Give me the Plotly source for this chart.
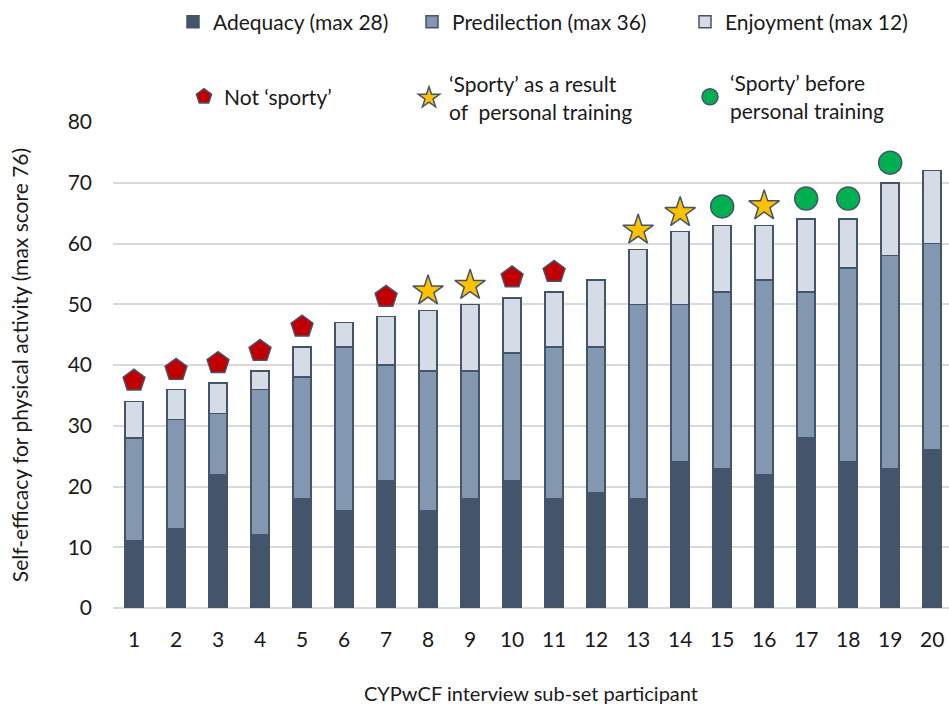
import plotly.graph_objects as go

participants = list(range(1, 21))
adequacy = [11, 13, 22, 12, 18, 16, 21, 16, 18, 21, 18, 19, 18, 24, 23, 22, 28, 24, 23, 26]
predilection = [17, 18, 10, 24, 20, 27, 19, 23, 21, 21, 25, 24, 32, 26, 29, 32, 24, 32, 35, 34]
enjoyment = [6, 5, 5, 3, 5, 4, 8, 10, 11, 9, 9, 11, 9, 12, 11, 9, 12, 8, 12, 12]

not_sporty_x = [1, 2, 3, 4, 5, 7, 10, 11]
not_sporty_y = [37.4, 39.2, 40.3, 42.3, 46.3, 51.2, 54.4, 55.3]
trained_x = [8, 9, 13, 14, 16]
trained_y = [52.2, 53.1, 62.2, 65.1, 66.2]
before_x = [15, 17, 18, 19]
before_y = [66.1, 67.4, 67.4, 73.3]

FONT = "Lato"
OUT = "#44546A"
TXT = "#1a1a1a"

# plot area in pixels
L, R, T, B = 113, 949, 122, 608
W, H = 949, 706


def px_x(p):
    return (p - L) / (R - L)


def px_y(p):
    return (B - p) / (B - T)


fig = go.Figure()
bar_specs = [
    ("Adequacy (max 28)", adequacy, "#44546A", "legend"),
    ("Predilection (max 36)", predilection, "#8497B0", "legend2"),
    ("Enjoyment (max 12)", enjoyment, "#D6DCE5", "legend3"),
]
for name, vals, col, lg in bar_specs:
    fig.add_trace(go.Bar(
        x=participants, y=vals, name=name, width=0.43,
        marker=dict(color=col, line=dict(color=OUT, width=1.5)),
        legend=lg,
    ))

mk_specs = [
    ("Not ‘sporty’", not_sporty_x, not_sporty_y, "pentagon", "#C00000", 23, "legend4"),
    ("‘Sporty’ as a result<br>of  personal training", trained_x, trained_y, "star", "#FFC000", 23, "legend5"),
    ("‘Sporty’ before<br>personal training", before_x, before_y, "circle", "#00B050", 23, "legend6"),
]
for name, xs, ys, sym, col, sz, lg in mk_specs:
    fig.add_trace(go.Scatter(
        x=xs, y=ys, mode="markers", name=name, cliponaxis=False,
        marker=dict(symbol=sym, color=col, size=sz, line=dict(color=OUT, width=1.5)),
        legend=lg,
    ))

leg_common = dict(orientation="h", xanchor="left", yanchor="middle",
                  bgcolor="rgba(0,0,0,0)", font=dict(family=FONT, size=21, color=TXT),
                  itemsizing="trace", borderwidth=0)
leg_pos = {
    "legend": (194, 22),
    "legend2": (433, 22),
    "legend3": (706, 22),
    "legend4": (205, 97),
    "legend5": (430, 98),
    "legend6": (711, 97),
}
leg_layout = {}
for k, (cx, cy) in leg_pos.items():
    leg_layout[k] = dict(leg_common, x=px_x(cx - 21), y=px_y(cy))

fig.update_layout(
    barmode="stack",
    width=W, height=H,
    margin=dict(l=L, r=W - R, t=T, b=H - B),
    paper_bgcolor="white", plot_bgcolor="white",
    font=dict(family=FONT, size=21, color=TXT),
    showlegend=True,
    xaxis=dict(
        range=[0.5, 20.4], tickvals=participants, ticktext=[str(p) for p in participants],
        showgrid=False, zeroline=False, showline=False, ticks="",
        ticklabelstandoff=17, tickfont=dict(family=FONT, size=21, color=TXT),
        title=dict(text="CYPwCF interview sub-set participant", standoff=36,
                   font=dict(family=FONT, size=20, color=TXT)),
    ),
    yaxis=dict(
        range=[0, 80], dtick=10, showgrid=True, gridcolor="#D9D9D9", gridwidth=1.5,
        zeroline=True, zerolinecolor="#D9D9D9", zerolinewidth=1.5, showline=False,
        ticks="", ticklabelstandoff=20, tickfont=dict(family=FONT, size=21, color=TXT),
        title=dict(text="Self-efficacy for physical activity (max score 76)", standoff=33,
                   font=dict(family=FONT, size=21, color=TXT)),
    ),
    **leg_layout,
)

fig.write_html("out.html", config={"displayModeBar": False},
               post_script="document.body.style.margin='0px';")
